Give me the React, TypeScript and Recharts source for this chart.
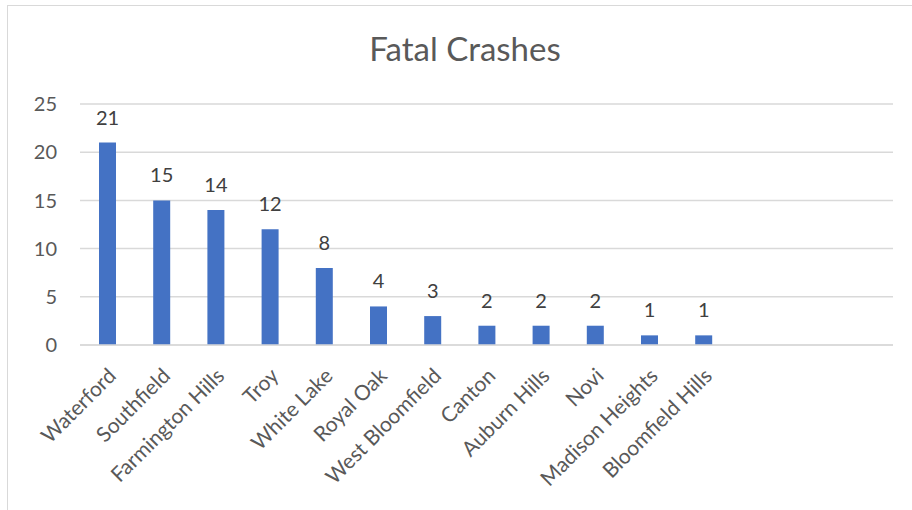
import React from 'react'
import { BarChart, Bar, XAxis, YAxis, CartesianGrid, LabelList } from 'recharts'

const cities = [
  'Waterford',
  'Southfield',
  'Farmington Hills',
  'Troy',
  'White Lake',
  'Royal Oak',
  'West Bloomfield',
  'Canton',
  'Auburn Hills',
  'Novi',
  'Madison Heights',
  'Bloomfield Hills',
  '',
  ' ',
  '  '
]
const crashes = [21, 15, 14, 12, 8, 4, 3, 2, 2, 2, 1, 1, null, null, null]
const yTicks = [0, 5, 10, 15, 20, 25]

const data = cities.map((name, i) => ({ name, value: crashes[i] }))

const FONT = 'Lato, "Liberation Sans", sans-serif'
const TEXT = '#595959'

const CityTick = (props: any) => {
  const { x, y, payload } = props
  const tx = x + 5
  const ty = y + 19
  return (
    <text
      x={tx}
      y={ty}
      transform={`rotate(-45, ${tx}, ${ty})`}
      textAnchor="end"
      dy="0.35em"
      fill={TEXT}
      fontSize={21}
      fontFamily={FONT}
    >
      {payload.value}
    </text>
  )
}

export default function App() {
  return (
    <div style={{ position: 'absolute', left: 0, top: 0, width: 912, height: 510, background: '#fff', overflow: 'hidden' }}>
      <div
        style={{
          position: 'absolute',
          left: 7,
          top: 5,
          width: 920,
          height: 520,
          border: '1px solid #d9d9d9'
        }}
      />
      <div
        style={{
          position: 'absolute',
          left: 0,
          width: 930,
          top: 28,
          textAlign: 'center',
          fontFamily: FONT,
          fontSize: 33,
          color: TEXT
        }}
      >
        Fatal Crashes
      </div>
      <div style={{ position: 'absolute', left: 0, top: 0 }}>
        <BarChart
          width={912}
          height={510}
          data={data}
          margin={{ top: 104, right: 19, left: 0, bottom: 15 }}
        >
          <CartesianGrid vertical={false} stroke="#d9d9d9" strokeWidth={1.5} />
          <XAxis
            dataKey="name"
            interval={0}
            height={150}
            tick={<CityTick />}
            tickLine={false}
            axisLine={{ stroke: '#d9d9d9', strokeWidth: 1.5 }}
          />
          <YAxis
            width={80}
            domain={[0, 25]}
            ticks={yTicks}
            tickLine={false}
            axisLine={false}
            tickSize={0}
            tickMargin={23}
            tick={{ fill: TEXT, fontSize: 20, fontFamily: FONT }}
          />
          <Bar dataKey="value" fill="#4472C4" barSize={17} isAnimationActive={false}>
            <LabelList
              dataKey="value"
              position="top"
              offset={18}
              fill="#404040"
              fontSize={20}
              fontFamily={FONT}
            />
          </Bar>
        </BarChart>
      </div>
    </div>
  )
}
